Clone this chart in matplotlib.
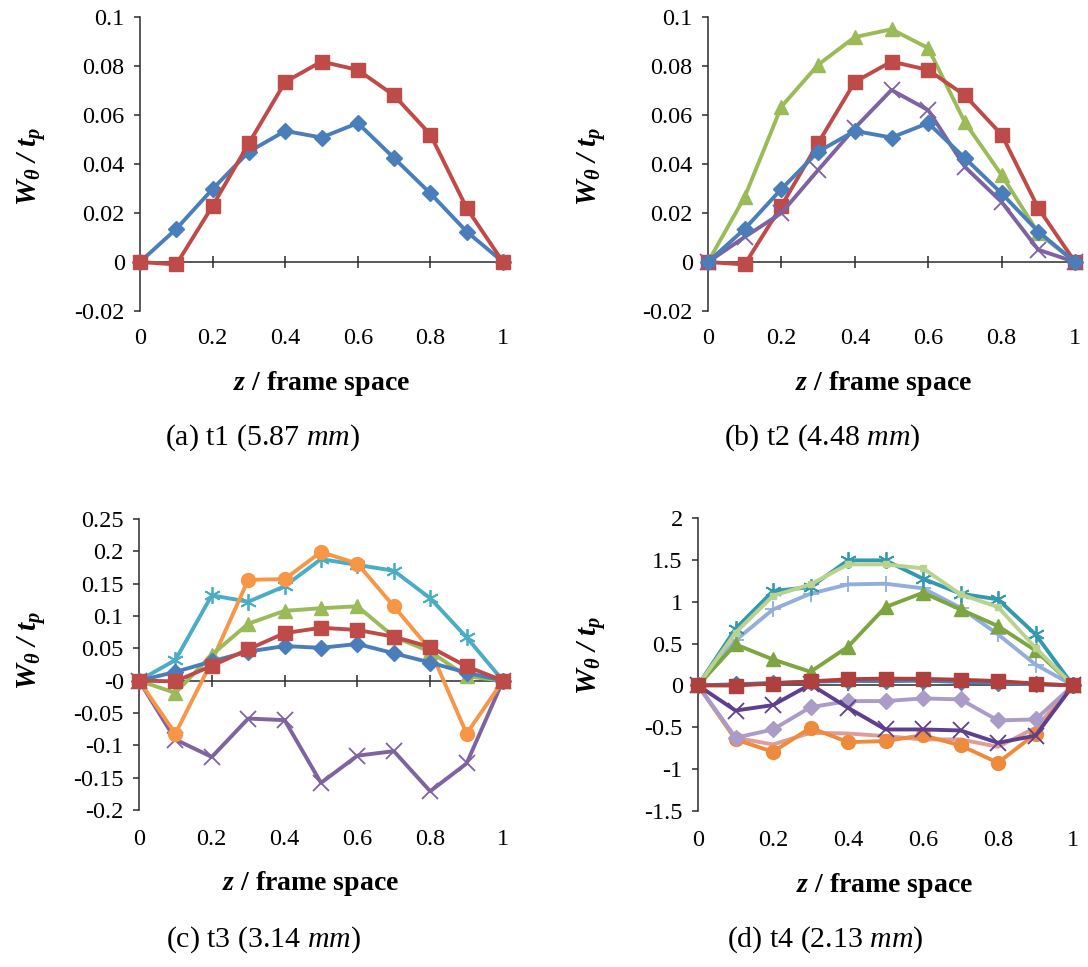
import numpy as np
import matplotlib
matplotlib.use("Agg")
import matplotlib.pyplot as plt

plt.rcParams["font.family"] = ["Liberation Serif", "DejaVu Serif"]
plt.rcParams["mathtext.fontset"] = "custom"
plt.rcParams["mathtext.rm"] = "Liberation Serif"
plt.rcParams["mathtext.it"] = "Liberation Serif:italic"
plt.rcParams["mathtext.bf"] = "Liberation Serif:bold:italic"
plt.rcParams["axes.unicode_minus"] = False

# ---- data -------------------------------------------------------------
z = [0, 0.1, 0.2, 0.3, 0.4, 0.5, 0.6, 0.7, 0.8, 0.9, 1.0]

base_blue = [0, 0.0135, 0.0298, 0.045, 0.0535, 0.0508, 0.0567, 0.0424, 0.028, 0.0124, 0]
base_red = [0, -0.001, 0.0229, 0.0485, 0.0735, 0.0818, 0.0784, 0.068, 0.052, 0.022, 0]

t2_green = [0, 0.0266, 0.0634, 0.0805, 0.0918, 0.095, 0.0873, 0.057, 0.0355, 0.0118, 0]
t2_purple = [0, 0.0102, 0.020, 0.0375, 0.0547, 0.0702, 0.062, 0.0388, 0.0245, 0.005, 0]

t3_green = [0, -0.019, 0.040, 0.088, 0.108, 0.112, 0.115, 0.068, 0.045, 0.0067, 0]
t3_purple = [0, -0.091, -0.118, -0.0586, -0.061, -0.158, -0.116, -0.109, -0.171, -0.128, 0]
t3_cyan = [0, 0.032, 0.132, 0.122, 0.146, 0.188, 0.179, 0.170, 0.1275, 0.067, 0]
t3_orange = [0, -0.082, 0.030, 0.156, 0.157, 0.199, 0.181, 0.115, 0.048, -0.082, 0]

t4_green = [0, 0.49, 0.31, 0.163, 0.462, 0.936, 1.107, 0.908, 0.709, 0.418, 0]
t4_purple = [0, -0.30, -0.235, 0.012, -0.267, -0.526, -0.526, -0.538, -0.685, -0.60, 0]
t4_cyan = [0, 0.677, 1.127, 1.175, 1.494, 1.494, 1.275, 1.096, 1.028, 0.61, 0]
t4_orange = [0, -0.645, -0.793, -0.506, -0.677, -0.665, -0.594, -0.717, -0.924, -0.578, 0]
t4_lightblue = [0, 0.538, 0.908, 1.096, 1.207, 1.215, 1.16, 0.928, 0.61, 0.25, 0]
t4_lightgreen = [0, 0.63, 1.07, 1.207, 1.446, 1.446, 1.398, 1.088, 0.936, 0.45, 0]
t4_lightpurple = [0, -0.625, -0.526, -0.26, -0.187, -0.187, -0.155, -0.167, -0.418, -0.406, 0]
t4_pink = [0, -0.625, -0.705, -0.566, -0.574, -0.606, -0.645, -0.645, -0.733, -0.506, 0]

x_ticks = [0, 0.2, 0.4, 0.6, 0.8, 1.0]
captions = ["(a) t1 (5.87 $\\mathit{mm}$)", "(b) t2 (4.48 $\\mathit{mm}$)",
            "(c) t3 (3.14 $\\mathit{mm}$)", "(d) t4 (2.13 $\\mathit{mm}$)"]

# ---- styles -----------------------------------------------------------
BLUE = "#4A7EBB"
RED = "#BE4B48"
GREEN = "#9BBB59"
PURPLE = "#7E62A1"
CYAN = "#4BACC6"
ORANGE = "#F79646"

W, H = 1088, 967
fig = plt.figure(figsize=(W / 100, H / 100), dpi=100)


def rect(x0, x1, ytop, ybot):
    return [x0 / W, 1 - ybot / H, (x1 - x0) / W, (ybot - ytop) / H]


def fmt(v):
    return "%g" % round(v, 6)


def setup(ax, ymin, ymax, ystep, xpad):
    ax.set_xlim(0, 1)
    ax.set_ylim(ymin, ymax)
    for s in ("top", "right"):
        ax.spines[s].set_visible(False)
    ax.spines["bottom"].set_position(("data", 0))
    for s in ("left", "bottom"):
        ax.spines[s].set_color("#2b2b2b")
        ax.spines[s].set_linewidth(1.1)
    yt = np.round(np.arange(ymin, ymax + ystep / 2, ystep), 6)
    ax.set_yticks(yt)
    ax.set_yticklabels([fmt(v) for v in yt])
    ax.tick_params(axis="y", direction="out", length=4, width=1.1,
                   color="#2b2b2b", labelsize=17.5, pad=7)
    ax.set_xticks(x_ticks)
    ax.tick_params(axis="x", direction="inout", length=8, width=1.1,
                   color="#2b2b2b", labelbottom=False)
    sec = ax.secondary_xaxis(0)
    sec.set_xticks(x_ticks)
    sec.set_xticklabels([fmt(v) for v in x_ticks])
    sec.spines["bottom"].set_visible(False)
    sec.tick_params(length=0, labelsize=17.5, pad=xpad)


def series(ax, y, color, marker, ms, zorder=3, lw=2.8, mew=1.0):
    ax.plot(z, y, color=color, lw=lw, marker=marker, ms=ms,
            mfc=color, mec=color, mew=mew, clip_on=False, zorder=zorder)


def labels(ylx, yly, xlx, xly, capx, capy, cap):
    fig.text(ylx / W, 1 - yly / H, r"$\mathbf{W_\theta\ /\ t_p}$", rotation=90,
             ha="center", va="center", fontsize=21)
    fig.text(xlx / W, 1 - xly / H, r"$\mathbf{z}$ / frame space", ha="center",
             va="center", fontsize=20, fontweight="bold")
    fig.text(capx / W, 1 - capy / H, cap, ha="center", va="center", fontsize=21.5)


# (a)
ax = fig.add_axes(rect(140, 503, 17, 311))
setup(ax, -0.02, 0.1, 0.02, 12)
series(ax, base_blue, BLUE, "D", 8.5)
series(ax, base_red, RED, "s", 10, zorder=4)
labels(32, 166, 322, 384, 262, 438, captions[0])

# (b)
ax = fig.add_axes(rect(708, 1075, 17, 311))
setup(ax, -0.02, 0.1, 0.02, 12)
series(ax, t2_green, GREEN, "^", 10.5)
series(ax, base_red, RED, "s", 10)
series(ax, t2_purple, PURPLE, "x", 11, mew=1.3)
series(ax, base_blue, BLUE, "D", 8.5, zorder=4)
labels(591, 166, 884, 384, 822, 438, captions[1])

# (c)
ax = fig.add_axes(rect(139, 503, 519, 810))
setup(ax, -0.2, 0.25, 0.05, 14)
series(ax, t3_purple, PURPLE, "x", 11, mew=1.3)
series(ax, t3_cyan, CYAN, (6, 2, 0), 12, mew=1.3)
series(ax, t3_orange, ORANGE, "o", 10)
series(ax, t3_green, GREEN, "^", 10.5)
series(ax, base_blue, BLUE, "D", 8.5)
series(ax, base_red, RED, "s", 10, zorder=4)
labels(32, 650, 311, 884, 263, 940, captions[2])

# (d)
ax = fig.add_axes(rect(698, 1073, 518, 811))
setup(ax, -1.5, 2.0, 0.5, 14)
series(ax, t4_pink, "#DE9C9A", None, 0)
series(ax, t4_orange, "#EE8A3C", "o", 10)
series(ax, t4_lightpurple, "#AB9BC9", "D", 8)
series(ax, t4_purple, "#5E3F8E", "x", 11, mew=1.3)
series(ax, t4_lightblue, "#93AEDC", "+", 12, mew=1.3)
series(ax, t4_green, "#7DA641", "^", 10.5)
series(ax, t4_cyan, "#3399B0", (6, 2, 0), 12, mew=1.3)
series(ax, t4_lightgreen, "#B9D38F", "s", 5)
series(ax, base_blue, BLUE, "D", 8)
series(ax, base_red, "#B0403D", "s", 10, zorder=5)
labels(592, 655, 885, 885, 825, 940, captions[3])

fig.savefig("out.png", dpi=100)
